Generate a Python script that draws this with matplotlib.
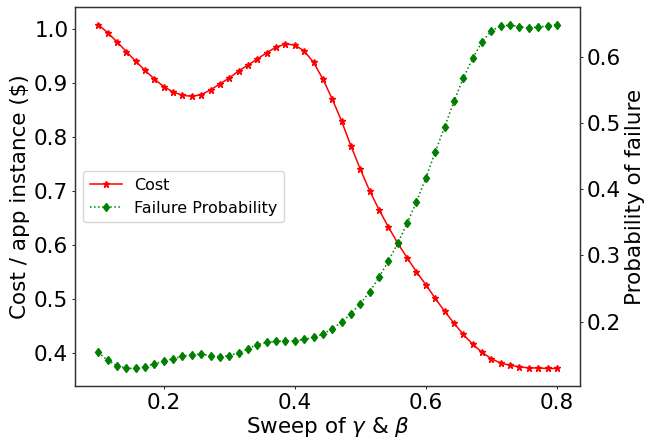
import numpy as np
import matplotlib
matplotlib.use("Agg")
import matplotlib.pyplot as plt

# sweep values (gamma & beta)
sweep = np.linspace(0.1, 0.8, 50)

cost = [1.008, 0.993, 0.976, 0.958, 0.940, 0.923, 0.907, 0.893, 0.883, 0.877,
        0.875, 0.878, 0.887, 0.898, 0.909, 0.922, 0.933, 0.944, 0.956, 0.966,
        0.972, 0.970, 0.959, 0.938, 0.907, 0.870, 0.829, 0.783, 0.740, 0.700,
        0.665, 0.633, 0.603, 0.576, 0.550, 0.526, 0.501, 0.477, 0.455, 0.434,
        0.416, 0.401, 0.389, 0.381, 0.377, 0.374, 0.372, 0.372, 0.371, 0.371]

failure = [0.1535, 0.1415, 0.1335, 0.1294, 0.129, 0.132, 0.136, 0.140, 0.144, 0.1475,
           0.150, 0.1505, 0.1486, 0.147, 0.1486, 0.1526, 0.1587, 0.1652, 0.1686, 0.170,
           0.1707, 0.171, 0.173, 0.176, 0.181, 0.189, 0.199, 0.212, 0.227, 0.245,
           0.267, 0.2914, 0.3186, 0.3487, 0.381, 0.417, 0.456, 0.494, 0.533, 0.568,
           0.598, 0.623, 0.639, 0.647, 0.648, 0.646, 0.644, 0.645, 0.647, 0.649]

fig = plt.figure(figsize=(6.45, 4.41), dpi=100)
ax = fig.add_axes([0.1167, 0.1254, 0.7823, 0.858])
ax2 = ax.twinx()

l1, = ax.plot(sweep, cost, "r-*", lw=1.1, ms=4.5, label="Cost")
l2, = ax2.plot(sweep, failure, "g:d", lw=1.1, ms=4.5, label="Failure Probability")

ax.set_xticks([0.2, 0.4, 0.6, 0.8])
ax.set_xlabel(r"Sweep of $\gamma$ & $\beta$", fontsize=15.5, labelpad=2)
ax.set_ylabel("Cost / app instance ($)", fontsize=15.5, labelpad=3)
ax2.set_ylabel("Probability of failure", fontsize=15.5, labelpad=3)
for a in (ax, ax2):
    a.tick_params(labelsize=15.5, length=2.5, width=0.6, pad=2.5)
    for s in a.spines.values():
        s.set_linewidth(0.9)
        s.set_color("0.2")

ax.legend([l1, l2], ["Cost", "Failure Probability"], loc="center left", fontsize=11.5)

fig.savefig("out.png", dpi=100)
